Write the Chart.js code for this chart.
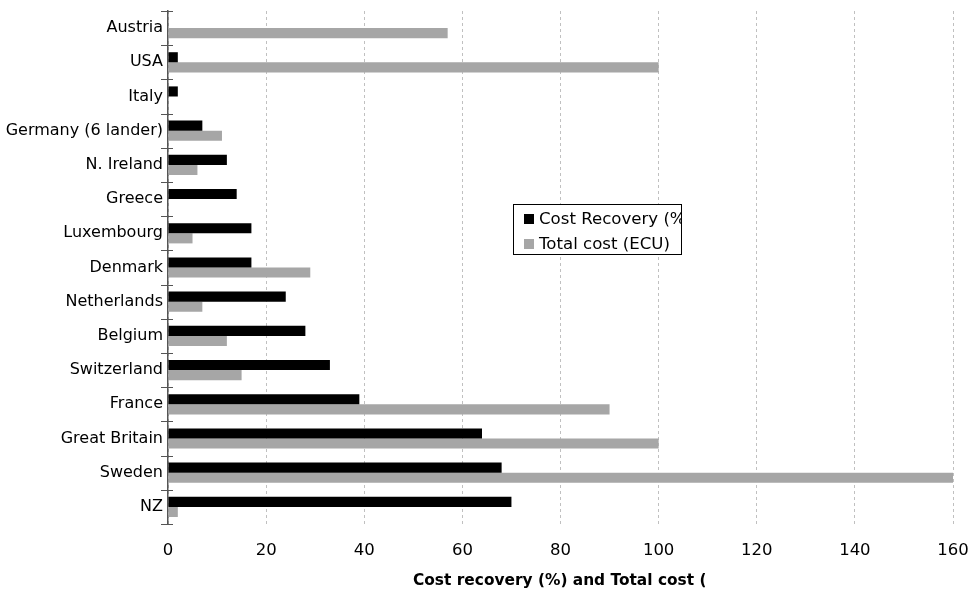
<!DOCTYPE html>
<html>
<head>
<meta charset="utf-8">
<script src="https://cdn.jsdelivr.net/npm/chart.js@4.4.1/dist/chart.umd.min.js"></script>
<style>
  html, body { margin: 0; padding: 0; background: #fff; }
  #wrap { width: 980px; height: 594px; }
</style>
</head>
<body>
<div id="wrap"><canvas id="chart" width="980" height="594"></canvas></div>
<script>
// data
const countries = ['Austria', 'USA', 'Italy', 'Germany (6 lander)', 'N. Ireland', 'Greece',
  'Luxembourg', 'Denmark', 'Netherlands', 'Belgium', 'Switzerland', 'France',
  'Great Britain', 'Sweden', 'NZ'];
const costRecovery = [null, 2, 2, 7, 12, 14, 17, 17, 24, 28, 33, 39, 64, 68, 70];
const totalCost = [57, 100, null, 11, 6, null, 5, 29, 7, 12, 15, 90, 100, 160, 2];
const xTicks = [0, 20, 40, 60, 80, 100, 120, 140, 160];

const seriesNames = ['Cost Recovery (%)', 'Total cost (ECU)'];
const axisTitle = 'Cost recovery (%) and Total cost (';

const FONT = '"DejaVu Sans", sans-serif';
Chart.defaults.font.family = FONT;
Chart.defaults.color = '#000';

// tick marks crossing the y axis line, between categories
const crossTicks = {
  id: 'crossTicks',
  afterDraw(chart) {
    const y = chart.scales.y, ctx = chart.ctx;
    const x0 = chart.chartArea.left;
    const band = (y.bottom - y.top) / countries.length;
    ctx.save();
    ctx.strokeStyle = '#555';
    ctx.lineWidth = 1;
    for (let i = 0; i <= countries.length; i++) {
      const py = Math.round(y.top + i * band) + 0.5;
      ctx.beginPath();
      ctx.moveTo(x0 - 7, py);
      ctx.lineTo(x0 + 5, py);
      ctx.stroke();
    }
    ctx.restore();
  }
};

// boxed legend inside the plot, text clipped at the box edge
const boxLegend = {
  id: 'boxLegend',
  afterDraw(chart) {
    const ctx = chart.ctx, a = chart.chartArea;
    const bx = a.left + 345, by = a.top + 193, bw = 168, bh = 50;
    ctx.save();
    ctx.fillStyle = '#fff';
    ctx.fillRect(bx, by, bw, bh);
    ctx.strokeStyle = '#000';
    ctx.lineWidth = 1;
    ctx.strokeRect(bx + 0.5, by + 0.5, bw, bh);
    ctx.beginPath();
    ctx.rect(bx, by, bw, bh);
    ctx.clip();
    ctx.font = '16.6px ' + FONT;
    ctx.textBaseline = 'middle';
    chart.data.datasets.forEach((ds, i) => {
      const cy = by + 15 + i * 25;
      ctx.fillStyle = ds.backgroundColor;
      ctx.fillRect(bx + 11, cy - 5, 10, 10);
      ctx.fillStyle = '#000';
      ctx.fillText(ds.label, bx + 26, cy + 1);
    });
    ctx.restore();
  }
};

// x axis title, cut off like in the source
const cutTitle = {
  id: 'cutTitle',
  afterDraw(chart) {
    const ctx = chart.ctx, a = chart.chartArea;
    const left = a.left + 245, right = a.left + 537;
    ctx.save();
    ctx.beginPath();
    ctx.rect(left - 5, a.bottom + 40, right - left + 5, 40);
    ctx.clip();
    ctx.font = 'bold 15.4px ' + FONT;
    ctx.textBaseline = 'middle';
    ctx.fillStyle = '#000';
    ctx.fillText(axisTitle, left, a.bottom + 57);
    ctx.restore();
  }
};

function noPad(scale) {
  scale.paddingTop = 0;
  scale.paddingBottom = 0;
  scale.paddingLeft = 0;
  scale.paddingRight = 0;
}

new Chart(document.getElementById('chart'), {
  type: 'bar',
  data: {
    labels: countries,
    datasets: [
      { label: seriesNames[0], data: costRecovery, backgroundColor: '#000000' },
      { label: seriesNames[1], data: totalCost, backgroundColor: '#a6a6a6' }
    ]
  },
  options: {
    indexAxis: 'y',
    responsive: false,
    animation: false,
    barPercentage: 1,
    categoryPercentage: 0.59,
    layout: { padding: { top: 11, right: 27, left: 0, bottom: 0 } },
    plugins: {
      legend: { display: false },
      tooltip: { enabled: false }
    },
    scales: {
      x: {
        min: 0,
        max: 160,
        afterBuildTicks(scale) { scale.ticks = xTicks.map(v => ({ value: v })); },
        afterFit(scale) { scale.height = 70; noPad(scale); },
        grid: { color: '#c0c0c0', drawTicks: false },
        border: { display: false, dash: [3, 3] },
        ticks: { padding: 17, font: { size: 16.5 } }
      },
      y: {
        afterFit(scale) { scale.width = 168; noPad(scale); },
        grid: { display: false, drawTicks: false },
        border: { display: true, color: '#555', width: 1.5 },
        ticks: { padding: 5, font: { size: 16 } }
      }
    }
  },
  plugins: [crossTicks, boxLegend, cutTitle]
});
</script>
</body>
</html>
